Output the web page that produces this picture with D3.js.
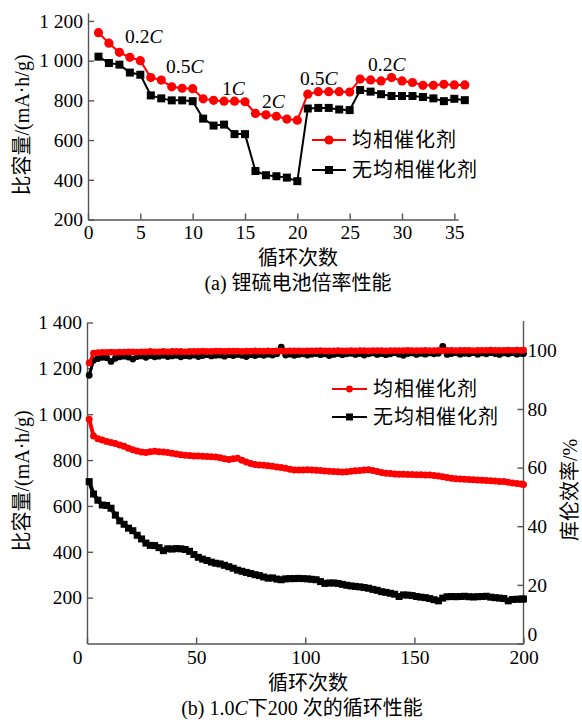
<!DOCTYPE html>
<html>
<head>
<meta charset="utf-8">
<script src="https://cdn.jsdelivr.net/npm/d3@7"></script>
<style>
	body { margin: 0; background: #fff; }
	svg text { font-family: "Liberation Serif", "Noto Sans CJK SC", serif; fill: #000; }
</style>
</head>
<body>
<div id="chart"></div>
<script>

///////////////////////////////////////////////////////////////////////////
///////////////////////////////// Data ////////////////////////////////////
///////////////////////////////////////////////////////////////////////////

//(a) rate performance, cycles 1 - 36
var rateCycles = [1,2,3,4,5,6,7,8,9,10,11,12,13,14,15,16,17,18,19,20,21,22,23,24,25,26,27,28,29,30,31,32,33,34,35,36];
var rateWith = [1141,1088,1042,1017,1000,915,902,868,861,859,808,800,796,796,793,734,727,720,706,700,
	831,844,844,844,842,907,903,898,915,898,890,876,876,881,878,878];
var rateWithout = [1020,988,980,940,929,825,810,800,800,796,708,673,678,630,630,444,423,418,411,393,
	759,762,762,754,751,852,844,831,822,822,822,817,810,796,808,801];
var rateLabels = ["0.2", "0.5", "1", "2", "0.5", "0.2"];

//(b) 200 cycles at 1.0C
var cycles = [1,3,5,7,9,11,13,15,17,19,21,23,25,27,29,31,33,35,37,39,41,43,45,47,49,51,53,55,57,59,
	61,63,65,67,69,71,73,75,77,79,81,83,85,87,89,91,93,95,97,99,101,103,105,107,109,111,113,115,117,119,
	121,123,125,127,129,131,133,135,137,139,141,143,145,147,149,151,153,155,157,159,161,163,165,167,169,
	171,173,175,177,179,181,183,185,187,189,191,193,195,197,199,200];
var capWith = [978,905,893,888,881,877,872,866,860,852,845,840,835,833,836,838,836,835,833,830,
	827,823,821,820,818,818,817,816,815,813,810,806,803,806,808,799,792,785,781,779,
	777,775,773,770,768,764,760,757,757,757,758,757,756,754,752,751,750,749,748,749,
	751,753,755,757,758,755,750,746,743,741,739,738,738,737,737,736,736,735,735,733,
	730,727,724,721,719,717,716,715,714,713,712,711,710,709,707,706,703,700,698,696,694];
var capWithout = [706,652,625,604,602,590,560,535,520,503,492,472,456,438,428,427,418,405,413,412,
	414,413,410,402,388,376,368,362,355,350,347,341,335,328,320,315,310,305,300,296,
	290,285,286,281,278,282,283,283,284,283,282,280,278,270,262,264,264,262,258,254,
	251,249,247,244,241,236,232,226,223,219,215,205,212,211,209,205,202,200,196,191,
	186,198,204,205,204,205,206,204,203,204,205,206,202,200,198,196,186,192,193,194,194];
var ceWith = [95.7,99.0,99.2,99.3,99.3,99.4,99.3,99.4,99.4,99.5,
	99.5,99.4,99.5,99.5,99.6,99.5,99.5,99.6,99.5,99.6,
	99.6,99.6,99.5,99.6,99.6,99.6,99.7,99.6,99.6,99.7,
	99.7,99.6,99.7,99.7,99.7,99.6,99.7,99.7,99.8,99.7,
	99.7,99.8,99.7,99.8,99.8,99.7,99.8,99.8,99.8,99.7,
	99.8,99.8,99.8,99.9,99.8,99.8,99.8,99.9,99.8,99.8,
	99.9,99.8,99.9,99.9,99.8,99.9,99.9,99.9,99.8,99.9,
	99.9,99.9,99.9,100.0,99.9,99.9,99.9,100.0,99.9,99.9,
	100.0,99.9,100.0,100.0,99.9,100.0,100.0,100.0,99.9,100.0,
	100.0,100.0,100.1,100.0,100.0,100.0,100.1,100.0,100.1,100.0,100.1];
var ceWithout = [91.5,96.6,97.2,97.6,97.5,96.2,97.3,97.8,98.0,97.7,
	97.0,97.9,98.1,97.6,98.2,97.8,98.0,98.3,97.9,98.1,
	98.3,97.8,98.2,98.0,98.4,97.9,98.2,98.5,98.1,98.3,
	98.4,98.0,98.5,98.2,98.6,98.3,97.9,98.5,98.2,98.6,
	98.3,98.7,98.4,98.8,101.1,98.4,98.7,98.3,98.6,98.8,
	98.4,98.7,98.9,98.5,98.8,98.2,98.6,98.9,98.5,98.8,
	99.0,98.6,98.9,98.4,98.8,99.1,98.6,98.9,98.5,98.8,
	99.2,98.7,98.3,98.9,99.1,98.6,99.0,98.7,99.1,98.8,
	99.0,101.3,98.6,98.9,99.2,98.7,99.0,98.8,99.2,98.7,
	99.1,98.8,99.2,98.9,98.6,99.1,98.8,99.2,98.7,99.0,98.9];

var legendNames = ["均相催化剂", "无均相催化剂"];
var topXTicks = [0,5,10,15,20,25,30,35];
var topYTicks = [200,400,600,800,1000,1200];
var botXTicks = [0,50,100,150,200];
var botYTicks = [200,400,600,800,1000,1200,1400];
var botRTicks = [0,20,40,60,80,100];

///////////////////////////////////////////////////////////////////////////
//////////////////////////////// Set up ///////////////////////////////////
///////////////////////////////////////////////////////////////////////////

var width = 582, height = 720;
var axisColor = "#555";

var svg = d3.select("#chart").append("svg")
	.attr("width", width)
	.attr("height", height);

//"1 200" style numbers
function spaced(d) {
	if (d < 1000) return d;
	var r = d % 1000;
	return Math.floor(d/1000) + " " + (r < 10 ? "00" : r < 100 ? "0" : "") + r;
}

function styleAxis(g) {
	g.selectAll("path, line").style("stroke", axisColor).style("stroke-width", 1.4);
	g.selectAll("text").style("font-size", "19.5px").attr("fill", "#000");
}

///////////////////////////////////////////////////////////////////////////
/////////////////////////// (a) Rate performance //////////////////////////
///////////////////////////////////////////////////////////////////////////

var xTop = d3.scaleLinear().domain([0, 35.35]).range([88, 458]);
var yTop = d3.scaleLinear().domain([200, 1240]).range([219.5, 13]);

svg.append("g")
	.attr("transform", "translate(0," + yTop(200) + ")")
	.call(d3.axisBottom(xTop).tickValues(topXTicks).tickSizeInner(-6).tickSizeOuter(0).tickPadding(6))
	.call(styleAxis);

svg.append("g")
	.attr("transform", "translate(" + xTop(0) + ",0)")
	.call(d3.axisLeft(yTop).tickValues(topYTicks).tickFormat(spaced).tickSizeInner(-6).tickSizeOuter(0).tickPadding(5))
	.call(styleAxis);

var lineTop = d3.line()
	.x(function(d) { return xTop(d[0]); })
	.y(function(d) { return yTop(d[1]); });

var topWithout = rateCycles.map(function(c,i) { return [c, rateWithout[i]]; });
var topWith = rateCycles.map(function(c,i) { return [c, rateWith[i]]; });

svg.append("path").datum(topWithout).attr("d", lineTop)
	.style("fill", "none").style("stroke", "#000").style("stroke-width", 2);
svg.selectAll(".sq-top").data(topWithout).enter().append("rect")
	.attr("class", "sq-top")
	.attr("x", function(d) { return xTop(d[0]) - 4; })
	.attr("y", function(d) { return yTop(d[1]) - 4; })
	.attr("width", 8).attr("height", 8)
	.style("fill", "#000");

svg.append("path").datum(topWith).attr("d", lineTop)
	.style("fill", "none").style("stroke", "#f00").style("stroke-width", 2);
svg.selectAll(".ci-top").data(topWith).enter().append("circle")
	.attr("class", "ci-top")
	.attr("cx", function(d) { return xTop(d[0]); })
	.attr("cy", function(d) { return yTop(d[1]); })
	.attr("r", 4.6)
	.style("fill", "#f00");

//C-rate labels
var ratePos = [[125,43],[166,73],[222,95],[262,108],[300,85],[368,71]];
rateLabels.forEach(function(t,i) {
	var tx = svg.append("text")
		.attr("x", ratePos[i][0]).attr("y", ratePos[i][1])
		.style("font-size", "19.5px");
	tx.append("tspan").text(t);
	tx.append("tspan").style("font-style", "italic").text("C");
});

//Legend
[["#f00","circle"],["#000","square"]].forEach(function(s,i) {
	var ly = 140 + i*30;
	svg.append("line").attr("x1", 312).attr("x2", 346).attr("y1", ly).attr("y2", ly)
		.style("stroke", s[0]).style("stroke-width", 2);
	if (s[1] === "circle") svg.append("circle").attr("cx", 329).attr("cy", ly).attr("r", 4.6).style("fill", s[0]);
	else svg.append("rect").attr("x", 325).attr("y", ly - 4).attr("width", 8).attr("height", 8).style("fill", s[0]);
	svg.append("text").attr("x", 352).attr("y", ly + 7)
		.style("font-size", "20px").style("letter-spacing", "1px")
		.text(legendNames[i]);
});

//Axis titles and caption
svg.append("text")
	.attr("transform", "translate(29,125) rotate(-90)")
	.attr("text-anchor", "middle")
	.style("font-size", "20px")
	.text("比容量/(mA·h/g)");

svg.append("text").attr("x", 298).attr("y", 265)
	.attr("text-anchor", "middle").style("font-size", "20px").text("循环次数");

svg.append("text").attr("x", 298).attr("y", 290)
	.attr("text-anchor", "middle").style("font-size", "20px").text("(a)  锂硫电池倍率性能");

///////////////////////////////////////////////////////////////////////////
//////////////////////////// (b) Cycling at 1C ////////////////////////////
///////////////////////////////////////////////////////////////////////////

var xBot = d3.scaleLinear().domain([0, 200]).range([87, 523.5]);
var yLeft = d3.scaleLinear().domain([0, 1400]).range([643.5, 322.5]);
var yRight = d3.scaleLinear().domain([0, 110]).range([643.5, 321]);

var gx = svg.append("g")
	.attr("transform", "translate(0," + yLeft(0) + ")")
	.call(d3.axisBottom(xBot).tickValues(botXTicks).tickSizeInner(-6).tickSizeOuter(0).tickPadding(7))
	.call(styleAxis);
gx.selectAll(".tick text").filter(function(d) { return d === 0; }).attr("dx", -10);

svg.append("g")
	.attr("transform", "translate(" + xBot(0) + ",0)")
	.call(d3.axisLeft(yLeft).tickValues(botYTicks).tickFormat(spaced).tickSizeInner(-6).tickSizeOuter(0).tickPadding(5))
	.call(styleAxis);

var gr = svg.append("g")
	.attr("transform", "translate(" + xBot(200) + ",0)")
	.call(d3.axisRight(yRight).tickValues(botRTicks).tickSizeInner(-6).tickSizeOuter(0).tickPadding(4))
	.call(styleAxis);
gr.select(".domain").attr("d", "M0," + yRight(0) + "V" + yRight(110));
gr.selectAll(".tick text").filter(function(d) { return d === 0; }).attr("dy", "-0.15em");

function series(vals) { return cycles.map(function(c,i) { return [c, vals[i]]; }); }

var lineCap = d3.line().x(function(d) { return xBot(d[0]); }).y(function(d) { return yLeft(d[1]); });
var lineCe = d3.line().x(function(d) { return xBot(d[0]); }).y(function(d) { return yRight(d[1]); });

//Coulombic efficiency
var ceB = series(ceWithout), ceR = series(ceWith);
svg.append("path").datum(ceB).attr("d", lineCe)
	.style("fill", "none").style("stroke", "#000").style("stroke-width", 3);
svg.selectAll(".ce-b").data(ceB).enter().append("circle")
	.attr("class", "ce-b")
	.attr("cx", function(d) { return xBot(d[0]); })
	.attr("cy", function(d) { return yRight(d[1]); })
	.attr("r", 3.4).style("fill", "#000");
svg.append("path").datum(ceR).attr("d", lineCe)
	.style("fill", "none").style("stroke", "#f00").style("stroke-width", 3);
svg.selectAll(".ce-r").data(ceR).enter().append("circle")
	.attr("class", "ce-r")
	.attr("cx", function(d) { return xBot(d[0]); })
	.attr("cy", function(d) { return yRight(d[1]); })
	.attr("r", 3.4).style("fill", "#f00");

//Capacity
var capB = series(capWithout), capR = series(capWith);
svg.append("path").datum(capB).attr("d", lineCap)
	.style("fill", "none").style("stroke", "#000").style("stroke-width", 4);
svg.selectAll(".cap-b").data(capB).enter().append("rect")
	.attr("class", "cap-b")
	.attr("x", function(d) { return xBot(d[0]) - 3.5; })
	.attr("y", function(d) { return yLeft(d[1]) - 3.5; })
	.attr("width", 7).attr("height", 7).style("fill", "#000");
svg.append("path").datum(capR).attr("d", lineCap)
	.style("fill", "none").style("stroke", "#f00").style("stroke-width", 4);
svg.selectAll(".cap-r").data(capR).enter().append("circle")
	.attr("class", "cap-r")
	.attr("cx", function(d) { return xBot(d[0]); })
	.attr("cy", function(d) { return yLeft(d[1]); })
	.attr("r", 3.5).style("fill", "#f00");

//Legend
[["#f00","circle"],["#000","square"]].forEach(function(s,i) {
	var ly = 389 + i*28;
	svg.append("line").attr("x1", 332).attr("x2", 367).attr("y1", ly).attr("y2", ly)
		.style("stroke", s[0]).style("stroke-width", 2);
	if (s[1] === "circle") svg.append("circle").attr("cx", 349.5).attr("cy", ly).attr("r", 3.4).style("fill", s[0]);
	else svg.append("rect").attr("x", 346).attr("y", ly - 3.5).attr("width", 7).attr("height", 7).style("fill", s[0]);
	svg.append("text").attr("x", 373).attr("y", ly + 7)
		.style("font-size", "20px").style("letter-spacing", "1px")
		.text(legendNames[i]);
});

//Axis titles and caption
svg.append("text")
	.attr("transform", "translate(29,481) rotate(-90)")
	.attr("text-anchor", "middle")
	.style("font-size", "20px")
	.text("比容量/(mA·h/g)");

svg.append("text")
	.attr("transform", "translate(577,490) rotate(-90)")
	.attr("text-anchor", "middle")
	.style("font-size", "20px")
	.text("库伦效率/%");

svg.append("text").attr("x", 308).attr("y", 690)
	.attr("text-anchor", "middle").style("font-size", "20px").text("循环次数");

var cap = svg.append("text").attr("x", 302).attr("y", 715)
	.attr("text-anchor", "middle").style("font-size", "20px");
cap.append("tspan").text("(b) 1.0");
cap.append("tspan").style("font-style", "italic").text("C");
cap.append("tspan").text("下200 次的循环性能");

</script>
</body>
</html>
